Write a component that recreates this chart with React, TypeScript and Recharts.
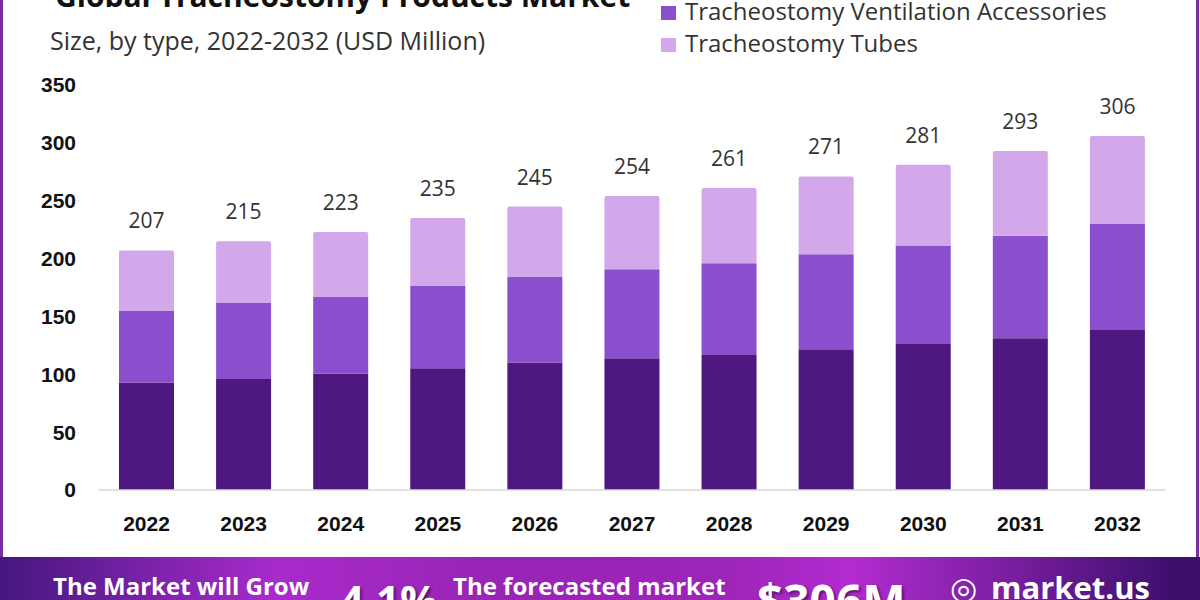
import { BarChart, Bar, XAxis, YAxis, LabelList } from "recharts";

const years = ["2022", "2023", "2024", "2025", "2026", "2027", "2028", "2029", "2030", "2031", "2032"];
const otherProducts = [92.7, 95.9, 100.5, 105.2, 110.1, 113.8, 116.7, 121.6, 126.2, 131.1, 138.3];
const ventilationAccessories = [62.0, 65.7, 66.3, 71.1, 74.0, 76.9, 79.2, 82.1, 85.0, 88.7, 91.6];
const tubes = [52.3, 53.4, 56.2, 58.7, 60.9, 63.3, 65.1, 67.3, 69.8, 73.2, 76.1];
const totals = [207, 215, 223, 235, 245, 254, 261, 271, 281, 293, 306];
const yTicks = [0, 50, 100, 150, 200, 250, 300, 350];

const data = years.map((year, i) => ({
  year,
  other: otherProducts[i],
  ventilation: ventilationAccessories[i],
  tubes: tubes[i],
  total: totals[i],
}));

const DARK = "#4f1780";
const MID = "#8b4fcd";
const LIGHT = "#d2a8ea";
const sans = "'Open Sans', 'DejaVu Sans', sans-serif";

const legendItems = [
  { label: "Tracheostomy Ventilation Accessories", color: MID, top: -5 },
  { label: "Tracheostomy Tubes", color: LIGHT, top: 27 },
];

export default function App() {
  return (
    <div
      style={{
        position: "absolute",
        top: 0,
        left: 0,
        width: 1200,
        height: 600,
        overflow: "hidden",
        background: "#fff",
        fontFamily: sans,
      }}
    >
      {/* side borders */}
      <div style={{ position: "absolute", left: 0, top: 0, width: 3, height: 557, background: "#7a2fa0" }} />
      <div style={{ position: "absolute", left: 1196, top: 0, width: 3, height: 557, background: "#7a2fa0" }} />

      <div
        style={{
          position: "absolute",
          left: 55,
          top: -24,
          fontSize: 30,
          lineHeight: "40px",
          fontWeight: 700,
          color: "#111",
          whiteSpace: "nowrap",
        }}
      >
        Global Tracheostomy Products Market
      </div>
      <div
        style={{
          position: "absolute",
          left: 50,
          top: 24,
          fontSize: 25,
          lineHeight: "32px",
          color: "#333",
          whiteSpace: "nowrap",
        }}
      >
        Size, by type, 2022-2032 (USD Million)
      </div>

      {legendItems.map((item) => (
        <div
          key={item.label}
          style={{
            position: "absolute",
            left: 661,
            top: item.top,
            display: "flex",
            alignItems: "center",
            whiteSpace: "nowrap",
            fontSize: 24,
            lineHeight: "32px",
            color: "#333",
          }}
        >
          <span style={{ width: 15, height: 14, background: item.color, marginRight: 9, marginTop: 3 }} />
          {item.label}
        </div>
      ))}

      <div style={{ position: "absolute", left: 0, top: 0 }}>
        <BarChart width={1200} height={540} data={data} margin={{ top: 85, right: 34, left: 0, bottom: 0 }}>
          <XAxis
            dataKey="year"
            height={50}
            axisLine={{ stroke: "#d9d9d9", strokeWidth: 1.5 }}
            tickLine={false}
            tickSize={0}
            tickMargin={26}
            tick={{ fill: "#111", fontSize: 21, fontWeight: 700, fontFamily: "'Liberation Sans', Arial, sans-serif" }}
          />
          <YAxis
            width={98}
            domain={[0, 350]}
            ticks={yTicks}
            axisLine={false}
            tickLine={false}
            tickSize={0}
            tickMargin={22}
            tick={{ fill: "#111", fontSize: 21, fontWeight: 700, fontFamily: "'Liberation Sans', Arial, sans-serif" }}
          />
          <Bar dataKey="other" stackId="a" fill={DARK} barSize={55} isAnimationActive={false} />
          <Bar dataKey="ventilation" stackId="a" fill={MID} barSize={55} isAnimationActive={false} />
          <Bar dataKey="tubes" stackId="a" fill={LIGHT} barSize={55} radius={[2, 2, 0, 0]} isAnimationActive={false}>
            <LabelList
              dataKey="total"
              position="top"
              offset={22}
              style={{ fill: "#333", fontSize: 21, fontFamily: sans }}
            />
          </Bar>
        </BarChart>
      </div>

      {/* bottom banner */}
      <div
        style={{
          position: "absolute",
          left: 0,
          top: 557,
          width: 1200,
          height: 43,
          background:
            "linear-gradient(90deg, #45177f 0%, #a82bcb 23%, #9a24b6 40%, #9c24b8 60%, #b22cd0 71%, #3c0f6c 98%)",
          color: "#fff",
          fontWeight: 700,
          whiteSpace: "nowrap",
        }}
      >
        <div style={{ position: "absolute", left: 53, top: 14, fontSize: 24, lineHeight: "30px" }}>
          The Market will Grow
        </div>
        <div
          style={{
            position: "absolute",
            left: 340,
            top: 18,
            fontSize: 42,
            lineHeight: "50px",
            textShadow: "2px 2px 3px rgba(40,0,60,0.6)",
          }}
        >
          4.1%
        </div>
        <div style={{ position: "absolute", left: 453, top: 14, fontSize: 24, lineHeight: "30px" }}>
          The forecasted market
        </div>
        <div
          style={{
            position: "absolute",
            left: 757,
            top: 18,
            fontSize: 46,
            lineHeight: "50px",
            textShadow: "2px 2px 3px rgba(40,0,60,0.6)",
          }}
        >
          $306M
        </div>
        <div style={{ position: "absolute", left: 950, top: 12, fontSize: 31, lineHeight: "36px" }}>
          <span style={{ marginRight: 14 }}>◎</span>market.us
        </div>
      </div>
    </div>
  );
}
